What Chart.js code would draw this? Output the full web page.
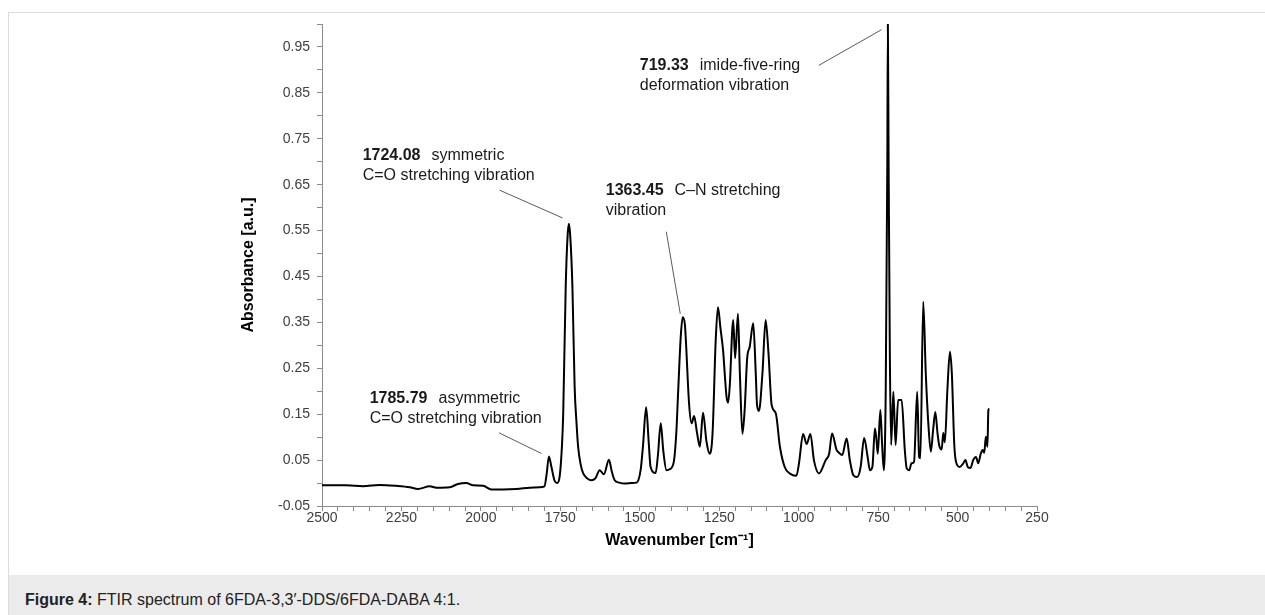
<!DOCTYPE html>
<html>
<head>
<meta charset="utf-8">
<script src="https://cdn.jsdelivr.net/npm/chart.js@4.4.1/dist/chart.umd.min.js"></script>
<style>
  body { margin: 0; width: 1265px; height: 615px; overflow: hidden; background: #fff; position: relative; }
  #frame { position: absolute; left: 8px; top: 12px; right: -1px; bottom: -1px;
           border-left: 1px solid #dcdcdc; border-top: 1px solid #dcdcdc; }
  #chart { position: absolute; left: 0; top: 0; }
  #caption { position: absolute; left: 9px; top: 575px; right: 0; height: 40px; background: #ebebeb;
             font: 16px "Liberation Sans", Arial, sans-serif; color: #222; padding-left: 16px;
             box-sizing: border-box; line-height: 18px; padding-top: 16px; }
</style>
</head>
<body>
<div id="frame"></div>
<canvas id="chart" width="1265" height="575"></canvas>
<div id="caption"><b>Figure 4:</b> FTIR spectrum of 6FDA-3,3′-DDS/6FDA-DABA 4:1.</div>
<script>
// spectrum (wavenumber in cm-1, absorbance in a.u.)
const wavenumbers = [
  2500, 2423, 2371, 2319, 2266, 2224, 2198, 2161, 2140, 2098, 2072, 2046, 2025, 1993, 1967, 1930,
  1888, 1846, 1815, 1800, 1793, 1786, 1778, 1768, 1760, 1752, 1745, 1741, 1733, 1727, 1723, 1719,
  1712, 1705, 1699, 1694, 1686, 1678, 1665, 1652, 1640, 1626, 1613, 1597, 1588, 1579, 1565, 1547,
  1525, 1510, 1497, 1490, 1480, 1472, 1466, 1450, 1443, 1434, 1426, 1416, 1406, 1393, 1385, 1379,
  1371, 1365, 1358, 1355, 1345, 1337, 1329, 1320, 1311, 1301, 1290, 1280, 1271, 1261, 1254, 1246,
  1238, 1227, 1222, 1217, 1206, 1200, 1191, 1185, 1177, 1170, 1162, 1154, 1143, 1135, 1131, 1125,
  1114, 1104, 1095, 1085, 1072, 1059, 1044, 1028, 1007, 999, 986, 975, 963, 952, 936, 915,
  904, 895, 881, 873, 863, 849, 839, 828, 816, 805, 794, 783, 776, 768, 760, 755,
  751, 743, 738, 732, 726, 721, 719.3, 717, 713, 709, 702, 695, 687, 676, 666, 660,
  652, 645, 637, 627, 621, 617, 608, 600, 592, 584, 577, 570, 563, 558, 550, 545,
  540, 532, 524, 518, 510, 501, 493, 482, 475, 468, 459, 451, 442, 435, 427, 421,
  416, 411, 406, 403, 400
];
const absorbance = [
  -0.005, -0.005, -0.007, -0.004, -0.006, -0.009, -0.013, -0.007, -0.010, -0.009, -0.002, 0.000, -0.005, -0.006, -0.014, -0.014,
  -0.013, -0.010, -0.009, -0.007, 0.020, 0.058, 0.035, 0.005, 0.000, 0.015, 0.080, 0.150, 0.430, 0.540, 0.565, 0.540,
  0.428, 0.210, 0.130, 0.079, 0.040, 0.021, 0.010, 0.006, 0.010, 0.028, 0.019, 0.051, 0.025, 0.006, 0.001, -0.001,
  0.000, 0.001, 0.030, 0.080, 0.165, 0.090, 0.035, 0.022, 0.060, 0.130, 0.070, 0.028, 0.030, 0.046, 0.110, 0.203,
  0.320, 0.361, 0.345, 0.312, 0.174, 0.130, 0.146, 0.110, 0.079, 0.153, 0.090, 0.064, 0.108, 0.312, 0.383, 0.337,
  0.290, 0.188, 0.175, 0.210, 0.355, 0.272, 0.369, 0.239, 0.107, 0.159, 0.272, 0.297, 0.348, 0.239, 0.170, 0.157,
  0.239, 0.355, 0.283, 0.170, 0.152, 0.079, 0.035, 0.021, 0.016, 0.043, 0.107, 0.085, 0.107, 0.050, 0.021, 0.050,
  0.064, 0.108, 0.073, 0.066, 0.061, 0.097, 0.050, 0.017, 0.013, 0.035, 0.098, 0.057, 0.028, 0.035, 0.119, 0.093,
  0.064, 0.159, 0.093, 0.028, 0.203, 0.700, 1.000, 0.700, 0.275, 0.083, 0.199, 0.083, 0.181, 0.181, 0.072, 0.032,
  0.028, 0.043, 0.046, 0.199, 0.057, 0.054, 0.395, 0.239, 0.130, 0.068, 0.115, 0.155, 0.108, 0.083, 0.073, 0.109,
  0.089, 0.203, 0.286, 0.239, 0.079, 0.039, 0.035, 0.043, 0.050, 0.035, 0.033, 0.050, 0.057, 0.043, 0.064, 0.072,
  0.066, 0.101, 0.079, 0.159, 0.162
];

// axis ticks: labelled ones plus the unlabelled minor marks between them
const xLabelTicks = [2500, 2250, 2000, 1750, 1500, 1250, 1000, 750, 500, 250];
const xMinorStep = 50;
const yLabelTicks = [-0.05, 0.05, 0.15, 0.25, 0.35, 0.45, 0.55, 0.65, 0.75, 0.85, 0.95];
const yMinorTicks = [0.0, 0.1, 0.2, 0.3, 0.4, 0.5, 0.6, 0.7, 0.8, 0.9, 1.0];

// peak labels: text anchor and leader line, in data units
const annotations = [
  { bold: '1724.08', rest: 'symmetric', line2: 'C=O stretching vibration',
    tx: 2372, ty: 0.7135, ty2: 0.6705, from: [1941, 0.638], to: [1743, 0.5775] },
  { bold: '1785.79', rest: 'asymmetric', line2: 'C=O stretching vibration',
    tx: 2350, ty: 0.1845, ty2: 0.1408, from: [1943, 0.1094], to: [1809.5, 0.0644] },
  { bold: '1363.45', rest: 'C–N stretching', line2: 'vibration',
    tx: 1607, ty: 0.6378, ty2: 0.5941, from: [1416.6, 0.5476], to: [1372.5, 0.3686] },
  { bold: '719.33', rest: 'imide-five-ring', line2: 'deformation vibration',
    tx: 1500, ty: 0.910, ty2: 0.8663, from: [936.4, 0.910], to: [739, 0.9877] }
];

const family = '"Liberation Sans", Arial, sans-serif';
const points = wavenumbers.map((w, i) => ({ x: w, y: absorbance[i] }));

const leaderPlugin = {
  id: 'leaders',
  afterDatasetsDraw(chart) {
    const { ctx, scales: { x, y } } = chart;
    ctx.save();
    annotations.forEach(a => {
      ctx.strokeStyle = '#5a5a5a';
      ctx.lineWidth = 1;
      ctx.beginPath();
      ctx.moveTo(x.getPixelForValue(a.from[0]), y.getPixelForValue(a.from[1]));
      ctx.lineTo(x.getPixelForValue(a.to[0]), y.getPixelForValue(a.to[1]));
      ctx.stroke();

      const tx = x.getPixelForValue(a.tx);
      ctx.fillStyle = '#1a1a1a';
      ctx.textBaseline = 'middle';
      ctx.textAlign = 'left';
      ctx.font = 'bold 16px ' + family;
      ctx.fillText(a.bold, tx, y.getPixelForValue(a.ty));
      const w = ctx.measureText(a.bold).width;
      ctx.font = '16px ' + family;
      ctx.fillText(a.rest, tx + w + 11, y.getPixelForValue(a.ty));
      ctx.fillText(a.line2, tx, y.getPixelForValue(a.ty2));
    });
    ctx.restore();
  }
};

new Chart(document.getElementById('chart'), {
  type: 'line',
  data: {
    datasets: [{
      data: points,
      borderColor: '#000',
      borderWidth: 2,
      pointRadius: 0,
      cubicInterpolationMode: 'monotone',
      fill: false
    }]
  },
  options: {
    responsive: false,
    animation: false,
    devicePixelRatio: 1,
    layout: { padding: { left: 239, right: 228, top: 24, bottom: 19 } },
    plugins: { legend: { display: false }, tooltip: { enabled: false } },
    scales: {
      x: {
        type: 'linear',
        reverse: true,
        min: 250,
        max: 2500,
        afterBuildTicks: scale => {
          const t = [];
          for (let v = 2500; v >= 250; v -= xMinorStep) t.push({ value: v });
          scale.ticks = t;
        },
        afterFit: scale => { scale.height = 50; },
        ticks: {
          autoSkip: false,
          maxRotation: 0,
          padding: -1,
          color: '#404040',
          font: { family: family, size: 14 },
          callback: v => xLabelTicks.includes(v) ? String(v) : ''
        },
        grid: { drawOnChartArea: false, tickLength: 5, color: '#8c8c8c' },
        border: { color: '#8c8c8c' },
        title: {
          display: true,
          text: 'Wavenumber [cm⁻¹]',
          color: '#000',
          font: { family: family, size: 16, weight: 'bold' },
          padding: { top: 0, bottom: 6 }
        }
      },
      y: {
        min: -0.05,
        max: 1.0,
        afterBuildTicks: scale => {
          scale.ticks = yLabelTicks.concat(yMinorTicks).sort((a, b) => a - b).map(v => ({ value: v }));
        },
        afterFit: scale => { scale.width = 83; },
        ticks: {
          autoSkip: false,
          padding: 7,
          color: '#404040',
          font: { family: family, size: 14 },
          callback: v => {
            const hit = yLabelTicks.find(t => Math.abs(t - v) < 1e-6);
            return hit === undefined ? '' : hit.toFixed(2);
          }
        },
        grid: { drawOnChartArea: false, tickLength: 5, color: '#8c8c8c' },
        border: { color: '#8c8c8c' },
        title: {
          display: true,
          text: 'Absorbance [a.u.]',
          color: '#000',
          font: { family: family, size: 16, weight: 'bold' },
          padding: { top: 0, bottom: 0 }
        }
      }
    }
  },
  plugins: [leaderPlugin]
});
</script>
</body>
</html>
